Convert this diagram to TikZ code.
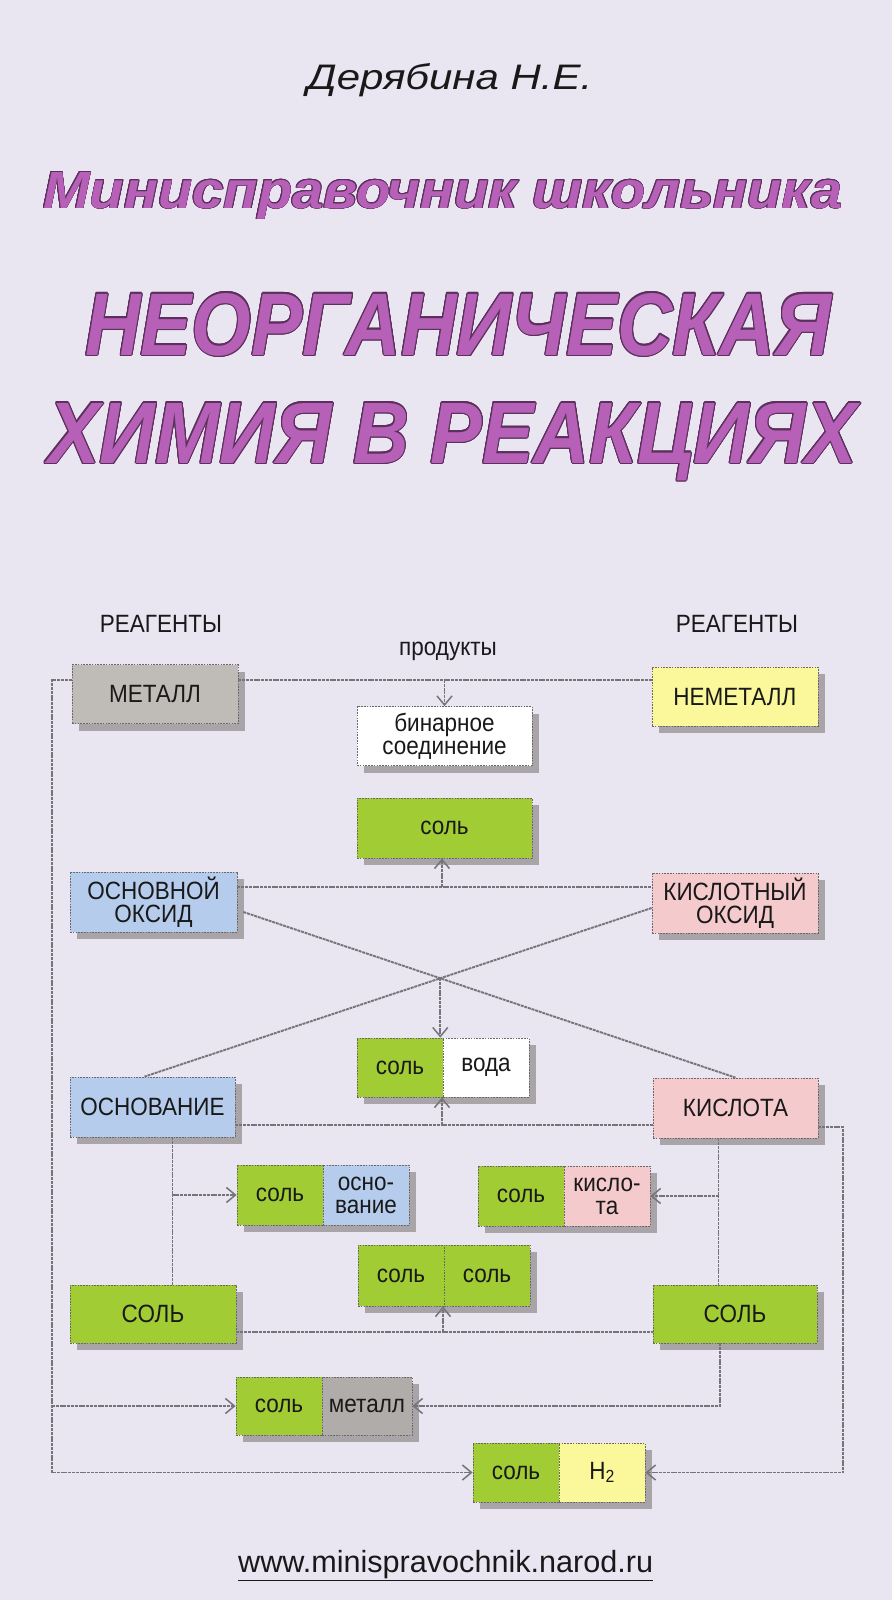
\documentclass[tikz,border=0pt]{standalone}
\usepackage{fontspec}
\usepackage{contour}
\setmainfont{Liberation Sans}
\newfontfamily\bxfont[FakeStretch=0.9]{Liberation Sans}
\usetikzlibrary{arrows.meta,shadows,intersections}
\definecolor{bgc}{RGB}{233,229,241}
\definecolor{ttl}{RGB}{183,96,183}
\definecolor{ttlo}{RGB}{92,48,92}
\definecolor{lnc}{RGB}{118,116,122}
\definecolor{brd}{RGB}{105,105,105}
\definecolor{shd}{RGB}{168,164,168}
\definecolor{cgray}{RGB}{191,187,183}
\definecolor{cgraytwo}{RGB}{176,172,170}
\definecolor{cyel}{RGB}{250,248,155}
\definecolor{cgrn}{RGB}{162,204,52}
\definecolor{cblu}{RGB}{182,204,236}
\definecolor{cpnk}{RGB}{245,202,204}
\definecolor{txt}{RGB}{25,25,25}
\contourlength{1.1pt}
\newcommand{\ttltext}[1]{\fontsize{80}{80}\selectfont\bfseries\itshape\contour{ttlo}{#1}}
\begin{document}
\begin{tikzpicture}[x=1pt,y=-1pt,
  box/.style={draw=brd, line width=0.8pt, dash pattern=on 1.6pt off 1.2pt,
    minimum width=166pt, minimum height=59pt, inner sep=0pt, align=center,
    text=txt, font=\bxfont\fontsize{25}{23}\selectfont,
    drop shadow={shadow xshift=7pt, shadow yshift=-7pt, fill=shd, opacity=1, draw=none}},
  half/.style={box, minimum width=86pt},
  lbl/.style={inner sep=0pt, text=txt, font=\bxfont\fontsize{25}{23}\selectfont},
  conn/.style={draw=lnc, line width=1.9pt, dash pattern=on 3pt off 0.8pt},
  arr/.style={conn, -{Straight Barb[length=9pt,width=15pt,line width=1.5pt]}},
  ttlnode/.style={anchor=base west, inner sep=0pt, text=ttl}
]
\fill[bgc] (0,0) rectangle (892,1600);
\useasboundingbox (0,0) rectangle (892,1600);

% titles
\node[anchor=base west, inner sep=0pt, text=txt] (author) at (307,90) {\resizebox{285pt}{26pt}{\itshape Дерябина Н.Е.}};
\node[ttlnode] (t1) at (43,208) {\resizebox{799pt}{36pt}{\ttltext{Минисправочник школьника}}};
\node[ttlnode] (t2) at (85,355) {\resizebox{746pt}{62pt}{\ttltext{НЕОРГАНИЧЕСКАЯ}}};
\node[ttlnode] (t3) at (48,463) {\resizebox{809pt}{60pt}{\ttltext{ХИМИЯ В РЕАКЦИЯХ}}};

% labels
\node[lbl] (reagL) at (161,624) {РЕАГЕНТЫ};
\node[lbl] (reagR) at (737,624) {РЕАГЕНТЫ};
\node[lbl] (prod) at (448,651) {продукты};

% boxes
\node[box, fill=cgray] (metal) at (155,694) {МЕТАЛЛ};
\node[box, fill=cyel] (nonmetal) at (735,696.5) {НЕМЕТАЛЛ};
\node[box, fill=white, minimum width=175pt] (bin) at (444.5,736) {бинарное\\соединение};
\node[box, fill=cgrn, minimum width=175pt, minimum height=60pt] (salt1) at (444.5,828) {соль};
\node[box, fill=cblu, minimum width=167pt, minimum height=60pt] (bo) at (153.5,902) {ОСНОВНОЙ\\ОКСИД};
\node[box, fill=cpnk, minimum height=60pt] (ao) at (735,903) {КИСЛОТНЫЙ\\ОКСИД};
\node[half, fill=cgrn] (swL) at (400,1067.5) {соль};
\node[half, fill=white] (swR) at (486,1067.5) {вода};
\node[box, fill=cblu, minimum width=165pt, minimum height=60pt] (base) at (152.5,1107) {ОСНОВАНИЕ};
\node[box, fill=cpnk, minimum width=165pt, minimum height=60pt] (acid) at (735.5,1108) {КИСЛОТА};
\node[half, fill=cgrn, minimum height=60pt] (sbL) at (280,1195) {соль};
\node[half, fill=cblu, minimum height=60pt] (sbR) at (366,1195) {осно-\\вание};
\node[half, fill=cgrn, minimum height=60pt] (saL) at (521,1196) {соль};
\node[half, fill=cpnk, minimum height=60pt] (saR) at (607,1196) {кисло-\\та};
\node[half, fill=cgrn, minimum height=61pt] (ssL) at (401,1275.5) {соль};
\node[half, fill=cgrn, minimum height=61pt] (ssR) at (487,1275.5) {соль};
\node[box, fill=cgrn, minimum height=58pt] (saltL) at (153,1314) {СОЛЬ};
\node[box, fill=cgrn, minimum width=164pt, minimum height=58pt] (saltR) at (735,1314) {СОЛЬ};
\node[half, fill=cgrn, minimum height=58pt] (smL) at (279,1406) {соль};
\node[half, fill=cgraytwo, minimum width=90pt, minimum height=58pt] (smR) at (367,1406) {металл};
\node[half, fill=cgrn] (shL) at (516,1472.5) {соль};
\node[half, fill=cyel] (shR) at (602,1472.5) {H\textsubscript{2}};

% connectors
\coordinate (m1) at (52,680);
\draw[conn] (metal.east|-m1) -- (nonmetal.west|-m1);
\draw[arr] (bin.north|-m1) -- (bin.north);
\draw[arr] (metal.west|-m1) -- (m1) -- (m1|-shL.west) -- (shL.west);
\draw[arr] (m1|-smL.west) -- (smL.west);

\coordinate (o1) at (442,887);
\draw[conn] (bo.east|-o1) -- (ao.west|-o1);
\draw[arr] (o1) -- (o1|-salt1.south);

\draw[conn, name path=d1] ([xshift=6pt,yshift=-10pt]bo.east) -- (acid.north);
\draw[conn, name path=d2] ([yshift=-5pt]ao.west) -- ([xshift=-8pt]base.north);
\path[name intersections={of=d1 and d2, by=X}];
\draw[arr] (X) -- (X|-swL.north);

\coordinate (b1) at (442,1125);
\draw[conn] (base.east|-b1) -- (acid.west|-b1);
\draw[arr] (b1) -- (b1|-swL.south);

\coordinate (bd) at ([xshift=20pt]base.south);
\draw[conn] (bd) -- (bd|-saltL.north);
\draw[arr] (bd|-sbL.west) -- (sbL.west);

\coordinate (ad) at ([xshift=-17pt]acid.south);
\draw[conn] (ad) -- (ad|-saltR.north);
\draw[arr] (ad|-saR.east) -- (saR.east);

\coordinate (ar) at (843,1127);
\draw[arr] (acid.east|-ar) -- (ar) -- (ar|-shR.east) -- (shR.east);

\coordinate (s1) at (443,1332);
\draw[conn] (saltL.east|-s1) -- (saltR.west|-s1);
\draw[arr] (s1) -- (s1|-ssL.south);

\coordinate (rd) at ([xshift=-15pt]saltR.south);
\draw[arr] (rd) -- (rd|-smR.east) -- (smR.east);

% url
\node[anchor=base west, inner sep=0pt, text=txt] (url) at (238,1572) {\fontsize{30.6}{34}\selectfont\underline{www.minispravochnik.narod.ru}};
\end{tikzpicture}
\end{document}
